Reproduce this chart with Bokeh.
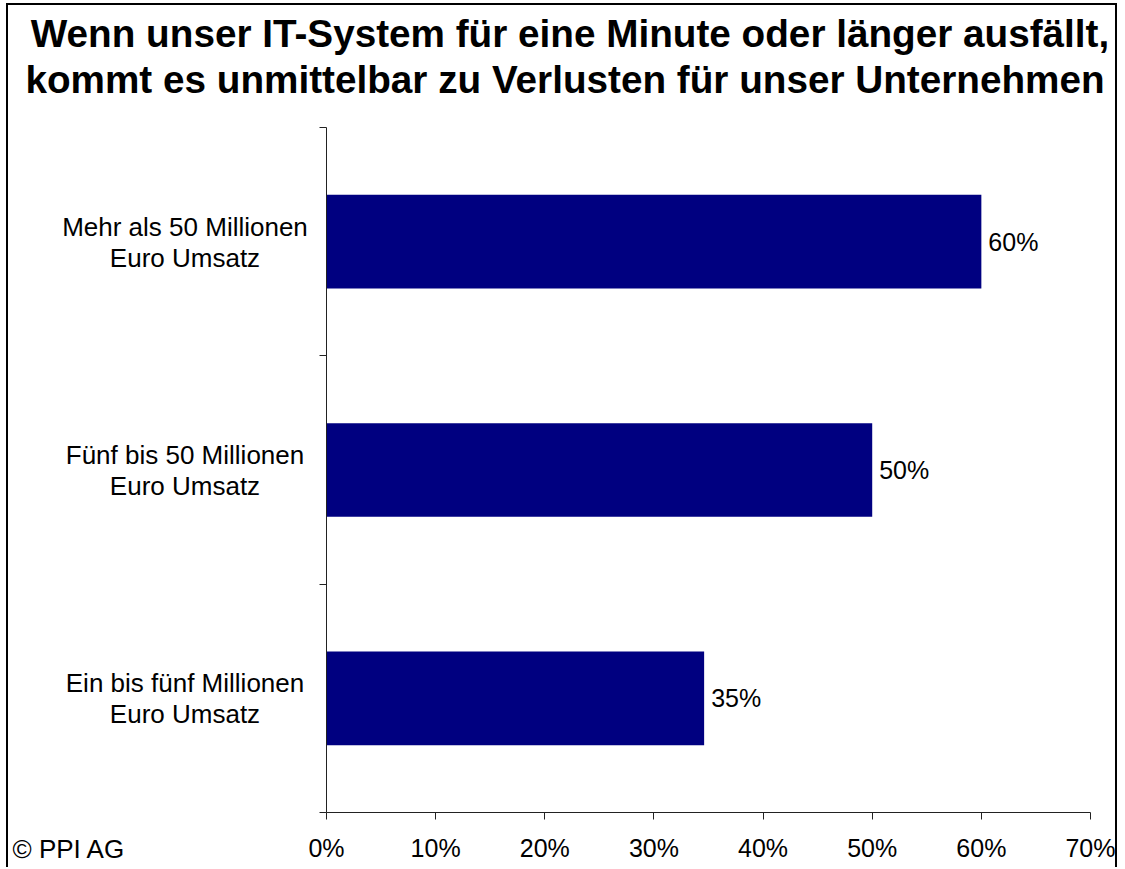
from bokeh.plotting import figure
from bokeh.models import (Range1d, FixedTicker, NumeralTickFormatter, LinearAxis,
                          ColumnDataSource, LabelSet, Label)
from bokeh.core.properties import value
from bokeh.embed import file_html
from bokeh.resources import INLINE

# ---- data ----
cat_line1 = ["Mehr als 50 Millionen", "Fünf bis 50 Millionen", "Ein bis fünf Millionen"]
cat_line2 = ["Euro Umsatz", "Euro Umsatz", "Euro Umsatz"]
values = [0.60, 0.50, 0.346]
value_labels = ["60%", "50%", "35%"]
x_ticks = [0.0, 0.1, 0.2, 0.3, 0.4, 0.5, 0.6, 0.7]
title_lines = ["Wenn unser IT-System für eine Minute oder länger ausfällt,",
               "kommt es unmittelbar zu Verlusten für unser Unternehmen"]
credit = "© PPI AG"

FONT = "Liberation Sans"
FS = "25px"

# ---- layout geometry (canvas pixels) ----
BORDER = 2
W, H = 1111, 864                 # canvas size (border drawn outside)
AX_L, AX_R = 318, 1082           # canvas px of 0 % and 70 %
AX_T, AX_B = 122, 807            # canvas px of top of band and axis line
XMAX = 0.7
NCAT = len(cat_line1)
xpx = (AX_R - AX_L) / XMAX
ypx = (AX_B - AX_T) / NCAT

positions = [i + 0.5 for i in range(NCAT)]
src = ColumnDataSource(dict(y=positions, v=values, c1=cat_line1, c2=cat_line2,
                            lab=value_labels, zero=[0] * NCAT))

p = figure(width=W, height=H,
           x_range=Range1d(-AX_L / xpx, XMAX + (W - AX_R) / xpx),
           y_range=Range1d(NCAT + (H - AX_B) / ypx, -AX_T / ypx),
           output_backend="svg", toolbar_location=None,
           x_axis_type=None, y_axis_type=None)
p.min_border = 0
p.styles = {"border-top": f"{BORDER}px solid black",
            "border-left": f"{BORDER}px solid black",
            "border-right": f"{BORDER}px solid black",
            "margin-left": "6px", "margin-top": "3px"}
p.outline_line_color = None
p.background_fill_color = "white"
p.border_fill_color = "white"

p.hbar(y="y", right="v", left="zero", height=0.41, source=src,
       fill_color="#000080", line_color=None)

# x axis at the bottom of the category band
xa = LinearAxis(fixed_location=NCAT, bounds=(0, XMAX))
xa.ticker = FixedTicker(ticks=x_ticks)
xa.formatter = NumeralTickFormatter(format="0%")
xa.minor_tick_line_color = None
xa.major_tick_out = 7
xa.major_tick_in = 0
xa.axis_line_color = "#222222"
xa.major_tick_line_color = "#222222"
xa.major_label_text_font = FONT
xa.major_label_text_font_size = FS
xa.major_label_text_color = "black"
xa.major_label_standoff = 14
p.add_layout(xa, "below")

# y axis at 0 %, ticks on category boundaries, no labels
ya = LinearAxis(fixed_location=0, bounds=(0, NCAT))
ya.ticker = FixedTicker(ticks=list(range(NCAT + 1)))
ya.major_label_overrides = {i: "" for i in range(NCAT + 1)}
ya.minor_tick_line_color = None
ya.major_tick_out = 7
ya.major_tick_in = 0
ya.axis_line_color = "#222222"
ya.major_tick_line_color = "#222222"
p.add_layout(ya, "left")

# category labels (two centred lines)
for col, off in (("c1", 15), ("c2", -16)):
    p.add_layout(LabelSet(x="zero", y="y", text=col, source=src,
                          x_offset=-141.5, y_offset=off,
                          text_align="center", text_baseline="middle",
                          text_font=value(FONT), text_font_size=value("26px"),
                          text_color="black"))
# value labels
p.add_layout(LabelSet(x="v", y="y", text="lab", source=src, x_offset=7,
                      text_align="left", text_baseline="middle",
                      text_font=value(FONT), text_font_size=value(FS),
                      text_color="black"))

# title lines
for line, xoff, yoff in zip(title_lines, [-138.5, -143.5], [94, 48]):
    p.add_layout(Label(x=XMAX / 2, y=0, x_offset=xoff, y_offset=yoff, text=line,
                       text_align="center", text_baseline="middle",
                       text_font=FONT, text_font_size="38.7px",
                       text_font_style="bold", text_color="black"))

p.add_layout(Label(x=0, y=NCAT, x_offset=-314, y_offset=-36, text=credit,
                   text_align="left", text_baseline="middle",
                   text_font=FONT, text_font_size="26px", text_color="black"))

open("out.html", "w").write(file_html(p, INLINE))
